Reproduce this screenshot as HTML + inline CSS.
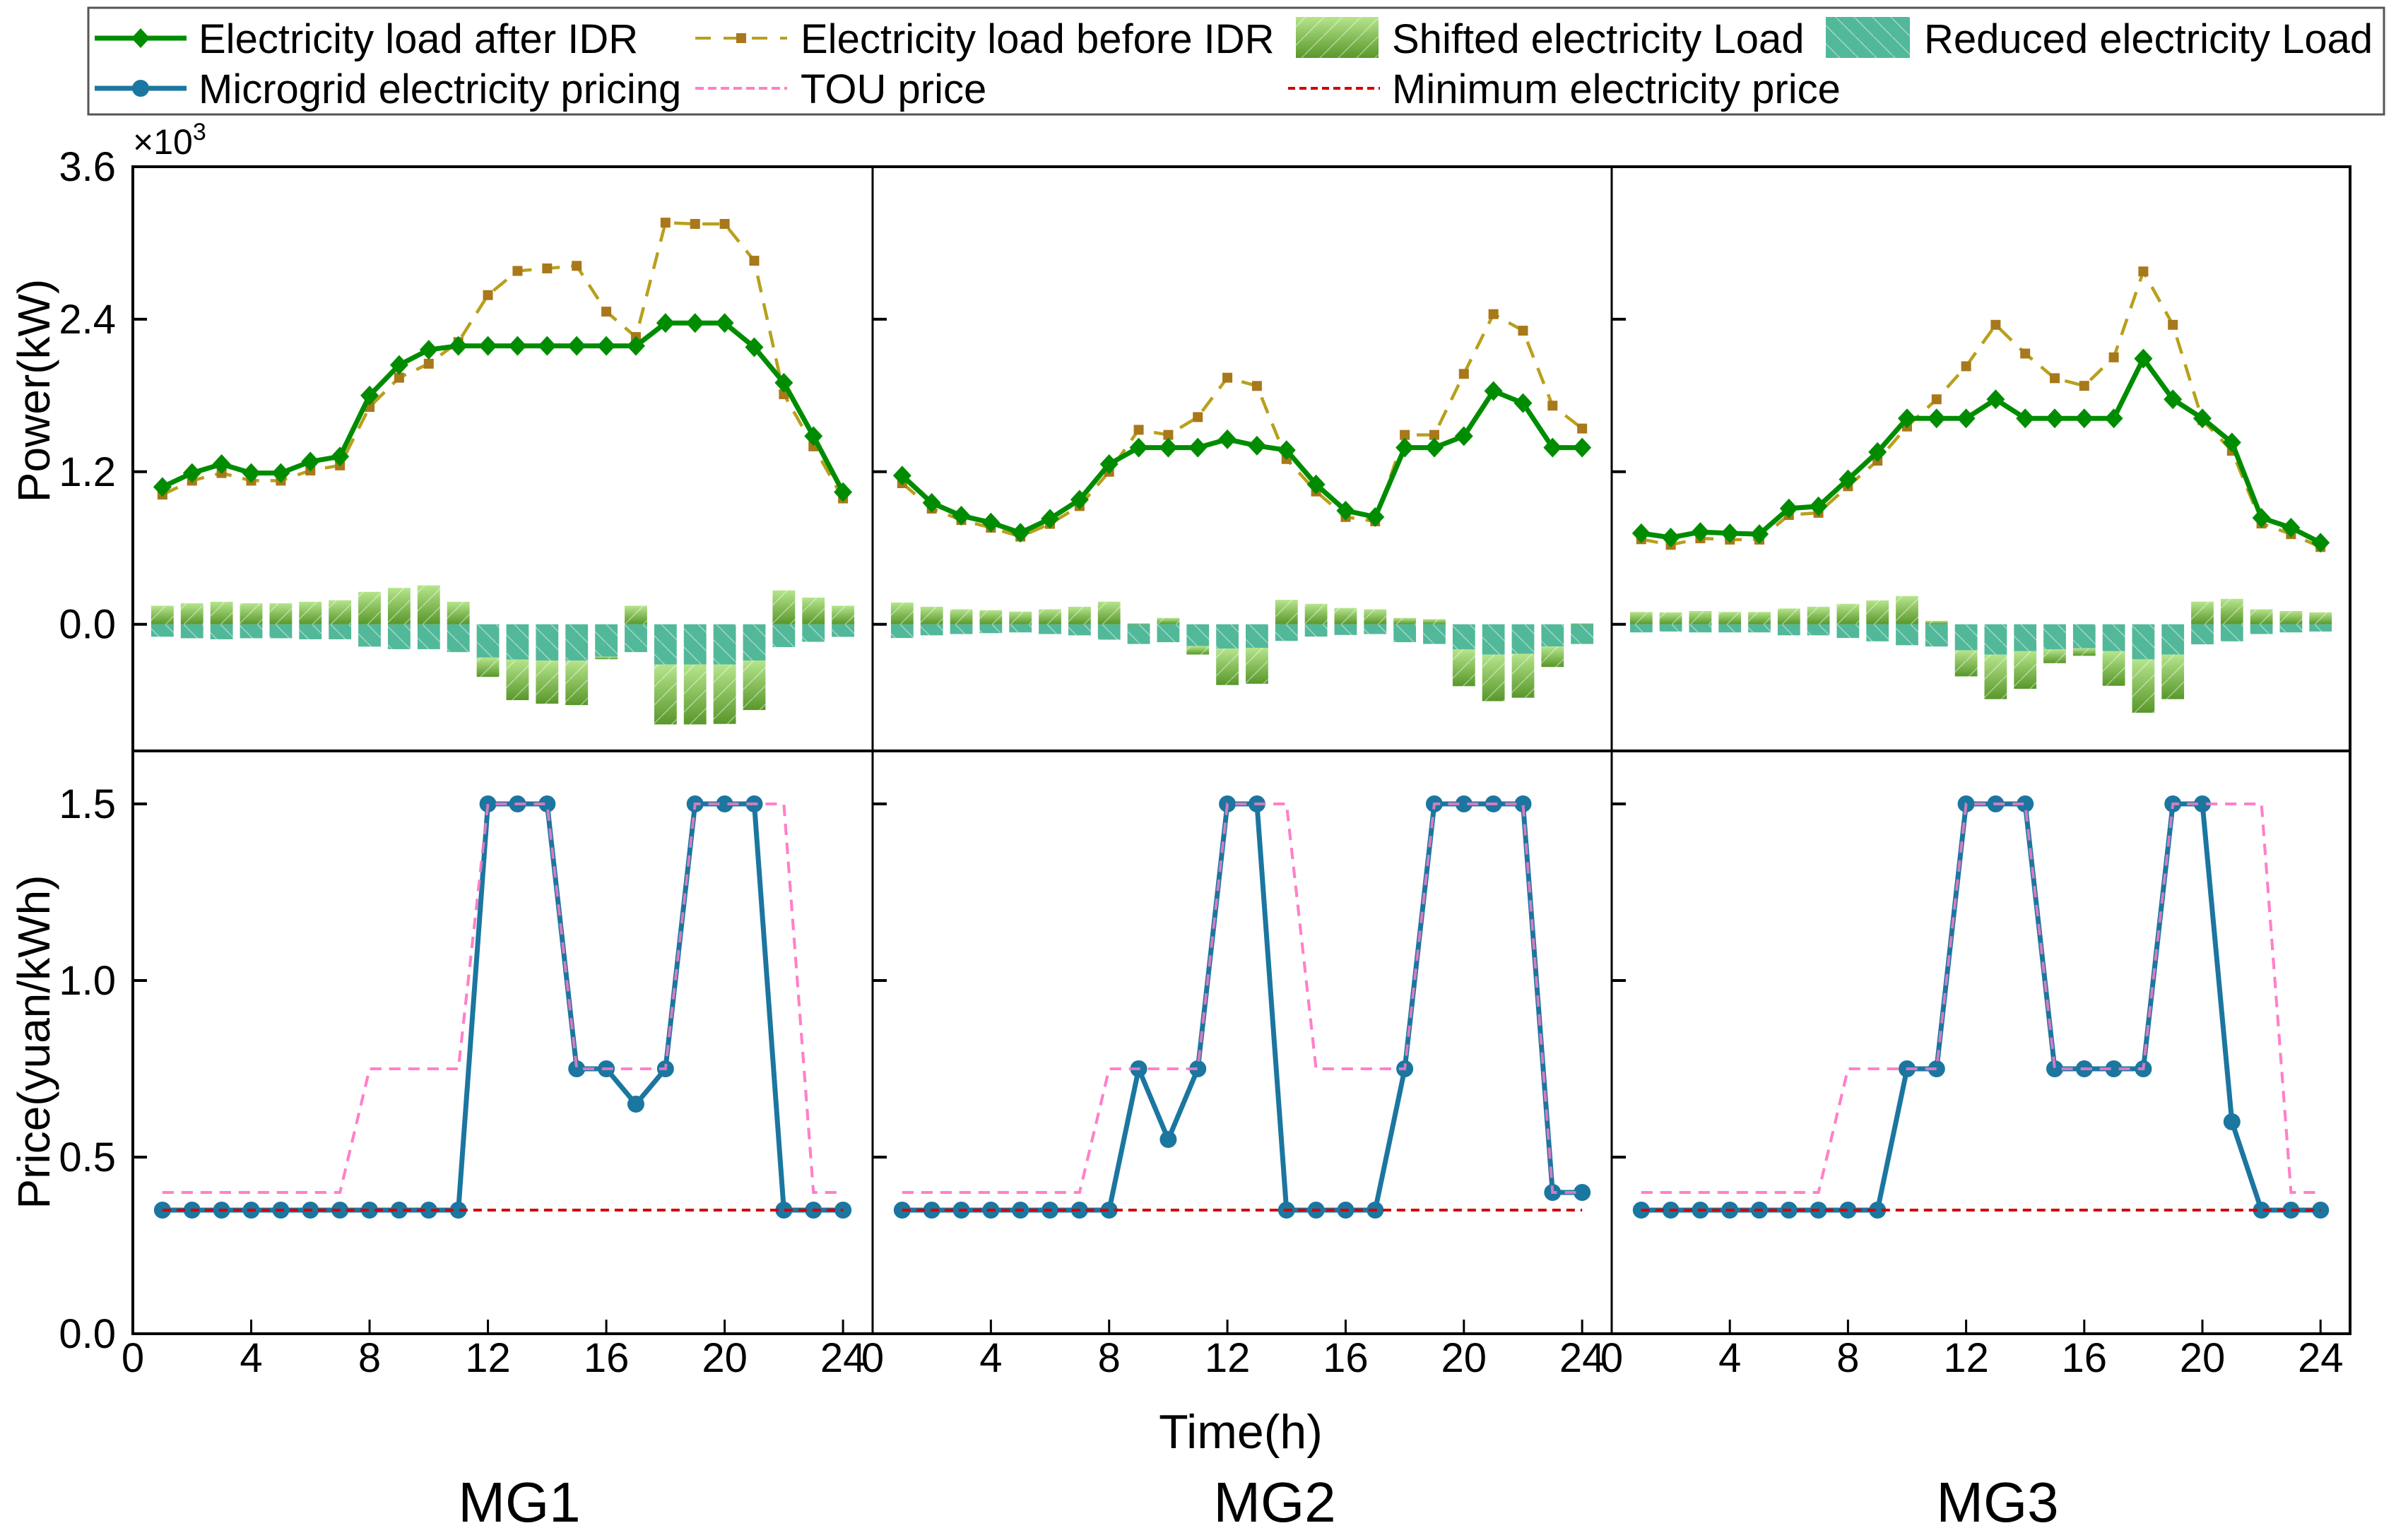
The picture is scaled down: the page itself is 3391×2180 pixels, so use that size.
<!DOCTYPE html>
<html><head><meta charset="utf-8">
<style>
html,body{margin:0;padding:0;background:#fff;}
svg{display:block;font-family:"Liberation Sans",Arial,sans-serif;}
</style></head>
<body>
<svg id="chart" width="3391" height="2180" viewBox="0 0 3391 2180" xmlns="http://www.w3.org/2000/svg">
<defs>
  <linearGradient id="shiftGrad" x1="0" y1="0" x2="0" y2="1">
    <stop offset="0" stop-color="#b6e58c"/>
    <stop offset="1" stop-color="#58972a"/>
  </linearGradient>
  <pattern id="hatchF" width="26" height="26" patternUnits="userSpaceOnUse">
    <path d="M0,26 L26,0" stroke="#ffffff" stroke-opacity="0.45" stroke-width="1.5"/>
  </pattern>
  <pattern id="hatchB" width="26" height="26" patternUnits="userSpaceOnUse">
    <path d="M0,0 L26,26" stroke="#ffffff" stroke-opacity="0.45" stroke-width="1.5"/>
  </pattern>
</defs>
<g id="bars"></g>
<g id="lines"></g>
<g id="frame"></g>
<g id="labels"></g>
<g id="legend"></g>
</svg>
<script>
const hours = [1,2,3,4,5,6,7,8,9,10,11,12,13,14,15,16,17,18,19,20,21,22,23,24];
const mg1After  = [1.08,1.19,1.26,1.19,1.19,1.28,1.32,1.80,2.04,2.16,2.19,2.19,2.19,2.19,2.19,2.19,2.19,2.37,2.37,2.37,2.18,1.90,1.48,1.04];
const mg1Before = [1.02,1.13,1.19,1.13,1.13,1.21,1.25,1.71,1.94,2.05,2.22,2.59,2.78,2.80,2.82,2.46,2.26,3.16,3.15,3.15,2.86,1.81,1.40,0.99];
const mg1Shift  = [0.146,0.165,0.177,0.165,0.165,0.177,0.189,0.255,0.286,0.306,0.177,-0.152,-0.319,-0.339,-0.350,-0.020,0.146,-0.471,-0.471,-0.467,-0.389,0.267,0.210,0.146];
const mg1Reduce = [0.098,0.110,0.118,0.110,0.110,0.118,0.118,0.176,0.196,0.196,0.219,0.262,0.278,0.286,0.286,0.255,0.219,0.317,0.317,0.317,0.286,0.180,0.138,0.099];
const mg1Price  = [0.35,0.35,0.35,0.35,0.35,0.35,0.35,0.35,0.35,0.35,0.35,1.5,1.5,1.5,0.75,0.75,0.65,0.75,1.5,1.5,1.5,0.35,0.35,0.35];

const mg2After  = [1.17,0.955,0.854,0.80,0.72,0.83,0.98,1.26,1.39,1.39,1.39,1.455,1.405,1.37,1.10,0.894,0.844,1.39,1.39,1.48,1.835,1.74,1.39,1.39];
const mg2Before = [1.11,0.91,0.82,0.76,0.69,0.79,0.93,1.20,1.53,1.49,1.63,1.94,1.875,1.30,1.045,0.844,0.81,1.49,1.49,1.97,2.44,2.31,1.72,1.54];
const mg2Shift  = [0.171,0.138,0.118,0.111,0.100,0.118,0.138,0.178,0.007,0.050,-0.067,-0.286,-0.283,0.192,0.161,0.128,0.118,0.050,0.040,-0.289,-0.366,-0.346,-0.161,0.007];
const mg2Reduce = [0.108,0.087,0.077,0.070,0.064,0.077,0.087,0.121,0.155,0.141,0.171,0.192,0.185,0.131,0.097,0.084,0.077,0.141,0.155,0.198,0.239,0.232,0.175,0.155];
const mg2Price  = [0.35,0.35,0.35,0.35,0.35,0.35,0.35,0.35,0.75,0.55,0.75,1.5,1.5,0.35,0.35,0.35,0.35,0.75,1.5,1.5,1.5,1.5,0.4,0.4];

const mg3After  = [0.716,0.682,0.726,0.716,0.709,0.911,0.928,1.14,1.355,1.62,1.62,1.62,1.77,1.62,1.62,1.62,1.62,2.09,1.77,1.62,1.43,0.837,0.76,0.642];
const mg3Before = [0.669,0.625,0.676,0.666,0.666,0.86,0.877,1.086,1.287,1.556,1.77,2.03,2.356,2.13,1.936,1.876,2.10,2.776,2.356,1.607,1.365,0.793,0.709,0.608];
const mg3Shift  = [0.097,0.094,0.104,0.097,0.097,0.124,0.138,0.161,0.188,0.222,0.027,-0.205,-0.350,-0.296,-0.108,-0.060,-0.272,-0.420,-0.350,0.178,0.200,0.118,0.104,0.094];
const mg3Reduce = [0.064,0.057,0.064,0.064,0.064,0.087,0.087,0.108,0.134,0.165,0.175,0.205,0.239,0.212,0.198,0.188,0.212,0.276,0.239,0.158,0.134,0.077,0.064,0.057];
const mg3Price  = [0.35,0.35,0.35,0.35,0.35,0.35,0.35,0.35,0.35,0.75,0.75,1.5,1.5,1.5,0.75,0.75,0.75,0.75,1.5,1.5,0.6,0.35,0.35,0.35];

const touPrice  = [0.4,0.4,0.4,0.4,0.4,0.4,0.4,0.75,0.75,0.75,0.75,1.5,1.5,1.5,0.75,0.75,0.75,0.75,1.5,1.5,1.5,1.5,0.4,0.4];
const minPrice  = [0.35,0.35,0.35,0.35,0.35,0.35,0.35,0.35,0.35,0.35,0.35,0.35,0.35,0.35,0.35,0.35,0.35,0.35,0.35,0.35,0.35,0.35,0.35,0.35];

const powerTicks = [0.0,1.2,2.4,3.6];
const powerTickLabels = ["0.0","1.2","2.4","3.6"];
const priceTicks = [0.0,0.5,1.0,1.5];
const priceTickLabels = ["0.0","0.5","1.0","1.5"];
const timeTicks = [0,4,8,12,16,20,24];
const panelNames = ["MG1","MG2","MG3"];

const NS = "http://www.w3.org/2000/svg";
function mk(tag, attrs, parent){ const e=document.createElementNS(NS,tag); for(const k in attrs) e.setAttribute(k,attrs[k]); if(parent) parent.appendChild(e); return e; }

const panelsX = [[188,1235],[1235,2281],[2281,3326]];
const panelTitleX = [735,1804,2827];
const TOP=236, MID=1063, BOT=1888;
function xScale(p,h){ const [a,b]=panelsX[p]; return a + h/25*(b-a); }
function yPow(v){ return 883.7 - v*(883.7-TOP)/3.6; }
function yPrice(v){ return BOT - v*(BOT-MID)/1.65; }

const datasets = [
 {after:mg1After,before:mg1Before,shift:mg1Shift,reduce:mg1Reduce,price:mg1Price},
 {after:mg2After,before:mg2Before,shift:mg2Shift,reduce:mg2Reduce,price:mg2Price},
 {after:mg3After,before:mg3Before,shift:mg3Shift,reduce:mg3Reduce,price:mg3Price}
];

const barsG=document.getElementById('bars'), linesG=document.getElementById('lines'),
      frameG=document.getElementById('frame'), labG=document.getElementById('labels');

datasets.forEach((d,p)=>{
  const pw = (panelsX[p][1]-panelsX[p][0])/25;
  const bw = pw*0.76;
  hours.forEach((h,i)=>{
    const cx = xScale(p,h);
    const r = d.reduce[i], s = d.shift[i];
    const y0 = yPow(0), yr = yPow(-r);
    const tr = mk('rect',{x:cx-bw/2,y:y0,width:bw,height:yr-y0,fill:'#52b89a'},barsG);
    
    
    const th = mk('rect',{x:cx-bw/2,y:y0,width:bw,height:yr-y0,fill:'url(#hatchB)'},barsG);
    
    
    let ya, yb;
    if(s>=0){ ya=yPow(s); yb=y0; } else { ya=yr; yb=yPow(-r+s); }
    const sr = mk('rect',{x:cx-bw/2,y:ya,width:bw,height:Math.max(0,yb-ya),fill:'url(#shiftGrad)'},barsG);
    
    
    const sh = mk('rect',{x:cx-bw/2,y:ya,width:bw,height:Math.max(0,yb-ya),fill:'url(#hatchF)'},barsG);
    
    
  });
  const ptsB = hours.map((h,i)=>xScale(p,h)+','+yPow(d.before[i])).join(' ');
  const lb = mk('polyline',{points:ptsB,fill:'none',stroke:'#b8a01c','stroke-width':4.5,'stroke-dasharray':'24 16'},linesG);
  
  
  hours.forEach((h,i)=>{
    const m = mk('rect',{x:xScale(p,h)-7,y:yPow(d.before[i])-7,width:14,height:14,fill:'#a8781a'},linesG);
    
    
  });
  const ptsA = hours.map((h,i)=>xScale(p,h)+','+yPow(d.after[i])).join(' ');
  const la = mk('polyline',{points:ptsA,fill:'none',stroke:'#008c00','stroke-width':7,'stroke-linejoin':'round'},linesG);
  
  
  hours.forEach((h,i)=>{
    const x=xScale(p,h), y=yPow(d.after[i]);
    const m = mk('polygon',{points:`${x},${y-14} ${x+13},${y} ${x},${y+14} ${x-13},${y}`,fill:'#008c00'},linesG);
    
    
  });
  const ptsM = hours.map((h,i)=>xScale(p,h)+','+yPrice(minPrice[i])).join(' ');
  const ptsT = hours.map((h,i)=>xScale(p,h)+','+yPrice(touPrice[i])).join(' ');
  const lt = mk('polyline',{points:ptsT,fill:'none',stroke:'#ff80c8','stroke-width':4,'stroke-dasharray':'16 11'},linesG);
  
  
  const ptsP = hours.map((h,i)=>xScale(p,h)+','+yPrice(d.price[i])).join(' ');
  const lp = mk('polyline',{points:ptsP,fill:'none',stroke:'#1b76a0','stroke-width':7,'stroke-linejoin':'round'},linesG);
  
  
  hours.forEach((h,i)=>{
    const m = mk('circle',{cx:xScale(p,h),cy:yPrice(d.price[i]),r:12,fill:'#1b76a0'},linesG);
    
    
  });
  const lm = mk('polyline',{points:ptsM,fill:'none',stroke:'#d40000','stroke-width':4,'stroke-dasharray':'12 8'},linesG);
  
  
  const lt2 = mk('polyline',{points:ptsT,fill:'none',stroke:'#ff80c8','stroke-width':4,'stroke-dasharray':'16 11','stroke-opacity':0.8},linesG);
  
  

  const [xa,xb]=panelsX[p];
  timeTicks.forEach(t=>{
    const x=xScale(p,t);
    if(t>0){
      const tk = mk('line',{x1:x,y1:BOT,x2:x,y2:BOT-20,stroke:'#000','stroke-width':3},frameG);
      
      
    }
    const tl = mk('text',{x:x,y:1942,'font-size':58,'text-anchor':'middle',fill:'#000'},labG);
    tl.textContent=String(t);
    
    
  });
  powerTicks.forEach(v=>{
    const tk = mk('line',{x1:xa,y1:yPow(v),x2:xa+20,y2:yPow(v),stroke:'#000','stroke-width':4},frameG);
    
    
  });
  priceTicks.forEach(v=>{
    const tk = mk('line',{x1:xa,y1:yPrice(v),x2:xa+20,y2:yPrice(v),stroke:'#000','stroke-width':4},frameG);
    
    
  });
  const nm = mk('text',{x:panelTitleX[p],y:2154,'font-size':80,'text-anchor':'middle',fill:'#000'},labG);
  nm.textContent=panelNames[p];
  
  
});

const fr = mk('rect',{x:188,y:TOP,width:3326-188,height:BOT-TOP,fill:'none',stroke:'#000','stroke-width':4},frameG);


const hl = mk('line',{x1:188,y1:MID,x2:3326,y2:MID,stroke:'#000','stroke-width':4},frameG);


[1235,2281].forEach(x=>{
  const vl = mk('line',{x1:x,y1:TOP,x2:x,y2:BOT,stroke:'#000','stroke-width':3},frameG);
  
  
});
powerTicks.forEach((v,i)=>{
  const t = mk('text',{x:164,y:yPow(v)+20,'font-size':58,'text-anchor':'end',fill:'#000'},labG);
  t.textContent=powerTickLabels[i];
  
  
});
priceTicks.forEach((v,i)=>{
  const t = mk('text',{x:164,y:yPrice(v)+20,'font-size':58,'text-anchor':'end',fill:'#000'},labG);
  t.textContent=priceTickLabels[i];
  
  
});
</script>
<script>
(function(){
const NS="http://www.w3.org/2000/svg";
const labG=document.getElementById('labels'), legG=document.getElementById('legend');
function mk(tag, attrs, parent){ const e=document.createElementNS(NS,tag); for(const k in attrs) e.setAttribute(k,attrs[k]); parent.appendChild(e); return e; }
const mult = mk('text',{x:188,y:218,'font-size':50,fill:'#000'},labG);
mult.innerHTML='×10<tspan dy="-20" font-size="34">3</tspan>';


const py = mk('text',{x:0,y:0,'font-size':64,'text-anchor':'middle',fill:'#000',transform:'translate(70,553) rotate(-90)'},labG);
py.textContent='Power(kW)';


const pr = mk('text',{x:0,y:0,'font-size':64,'text-anchor':'middle',fill:'#000',transform:'translate(70,1475) rotate(-90)'},labG);
pr.textContent='Price(yuan/kWh)';


const tt = mk('text',{x:1756,y:2050,'font-size':68,'text-anchor':'middle',fill:'#000'},labG);
tt.textContent='Time(h)';



const box = mk('rect',{x:125,y:11,width:3249,height:151,fill:'#fff',stroke:'#555','stroke-width':3},legG);


function txt(x,y,s,name){ const t=mk('text',{x:x,y:y,'font-size':58,fill:'#000'},legG); t.textContent=s;   }
const r1=54, r2=125;
let e=mk('line',{x1:134,y1:r1,x2:264,y2:r1,stroke:'#008c00','stroke-width':7},legG);
 
e=mk('polygon',{points:`199,${r1-14} 212,${r1} 199,${r1+14} 186,${r1}`,fill:'#008c00'},legG);
 
txt(281,r1+21,'Electricity load after IDR','legend-entry-after-idr');
e=mk('line',{x1:984,y1:r1,x2:1114,y2:r1,stroke:'#b8a01c','stroke-width':4,'stroke-dasharray':'22 18'},legG);
 
e=mk('rect',{x:1042,y:r1-7,width:14,height:14,fill:'#a8781a'},legG);
 
txt(1133,r1+21,'Electricity load before IDR','legend-entry-before-idr');
e=mk('rect',{x:1834,y:24,width:117,height:58,fill:'url(#shiftGrad)'},legG);
 
e=mk('rect',{x:1834,y:24,width:117,height:58,fill:'url(#hatchF)'},legG);
 
txt(1970,r1+21,'Shifted electricity Load','legend-entry-shifted');
e=mk('rect',{x:2584,y:24,width:119,height:58,fill:'#52b89a'},legG);
 
e=mk('rect',{x:2584,y:24,width:119,height:58,fill:'url(#hatchB)'},legG);
 
txt(2723,r1+21,'Reduced electricity Load','legend-entry-reduced');
e=mk('line',{x1:134,y1:r2,x2:264,y2:r2,stroke:'#1b76a0','stroke-width':7},legG);
 
e=mk('circle',{cx:199,cy:r2,r:12,fill:'#1b76a0'},legG);
 
txt(281,r2+21,'Microgrid electricity pricing','legend-entry-microgrid-price');
e=mk('line',{x1:984,y1:r2,x2:1114,y2:r2,stroke:'#ff80c8','stroke-width':4,'stroke-dasharray':'12 6'},legG);
 
txt(1133,r2+21,'TOU price','legend-entry-tou');
e=mk('line',{x1:1823,y1:r2,x2:1953,y2:r2,stroke:'#d40000','stroke-width':4,'stroke-dasharray':'10 6'},legG);
 
txt(1970,r2+21,'Minimum electricity price','legend-entry-min-price');
})();
</script>
</body></html>
